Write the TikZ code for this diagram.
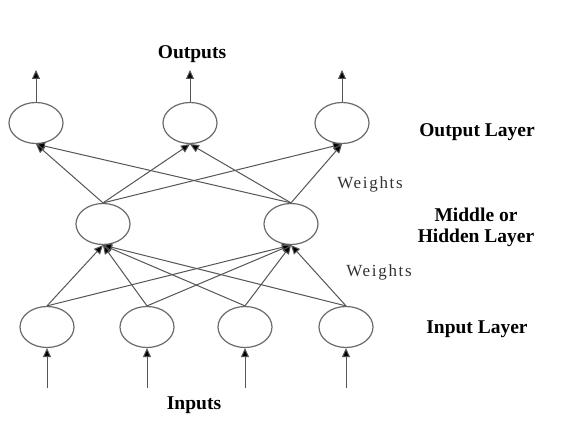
\documentclass[tikz,border=0pt]{standalone}
\usepackage{fontspec}
\setmainfont{Liberation Serif}
\newfontfamily\wfont[LetterSpace=10]{Liberation Serif}
\usetikzlibrary{shapes.geometric,arrows.meta}
\definecolor{edgegray}{HTML}{555555}
\definecolor{ringgray}{HTML}{6A6A6A}
\tikzset{
  neuron/.style={ellipse, draw=ringgray, line width=1.2pt, minimum width=54pt, minimum height=41pt, inner sep=0pt},
  conn/.style={draw=edgegray, line width=1pt, -{Triangle[length=9pt,width=8pt,fill=black]}},
  layerlabel/.style={font=\fontsize{19.5}{21}\selectfont\bfseries, align=center, inner sep=0pt},
  wlabel/.style={font=\wfont\fontsize{17}{18}\selectfont, text=black!80, inner sep=0pt}
}
\begin{document}
\begin{tikzpicture}[x=1pt,y=-1pt]
\useasboundingbox (0,0) rectangle (566,427);
\fill[white] (0,0) rectangle (566,427);
% output layer
\node[neuron] (o1) at (36,123) {};
\node[neuron] (o2) at (190,123) {};
\node[neuron] (o3) at (342,123) {};
% hidden layer
\node[neuron] (h1) at (103,224) {};
\node[neuron] (h2) at (291,224) {};
% input layer
\node[neuron] (i1) at (47,327) {};
\node[neuron] (i2) at (147,327) {};
\node[neuron] (i3) at (245,327) {};
\node[neuron] (i4) at (346,327) {};
% free ends
\coordinate (t1) at (36,70);
\coordinate (t2) at (190,70);
\coordinate (t3) at (342,70);
\coordinate (b1) at (47,388);
\coordinate (b2) at (147,388);
\coordinate (b3) at (245,388);
\coordinate (b4) at (346,388);
% output arrows
\foreach \n in {1,2,3} \draw[conn] (o\n.north) -- (t\n);
% input arrows
\foreach \n in {1,2,3,4} \draw[conn] (b\n) -- (i\n.south);
% hidden -> output
\foreach \h in {1,2} \foreach \o in {1,2,3} \draw[conn] (h\h.north) -- (o\o.south);
% input -> hidden
\foreach \i in {1,2,3,4} \foreach \h in {1,2} \draw[conn] (i\i.north) -- (h\h.south);
% labels
\node[layerlabel] (lout) at (192,54) {Outputs};
\node[layerlabel] (lin) at (194,405) {Inputs};
\node[layerlabel] (lol) at (477,132) {Output Layer};
\node[layerlabel] (lhl) at (476,227) {Middle or\\Hidden Layer};
\node[layerlabel] (lil) at (477,329) {Input Layer};
\node[wlabel] (w1) at (370,184) {Weights};
\node[wlabel] (w2) at (379,272) {Weights};
\end{tikzpicture}
\end{document}
